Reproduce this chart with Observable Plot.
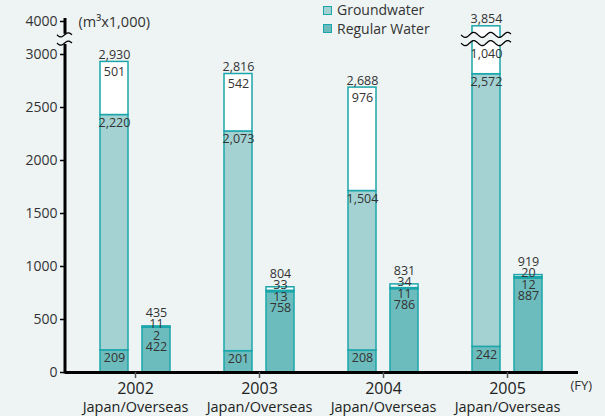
<!DOCTYPE html>
<html><head><meta charset="utf-8">
<script src="https://cdn.jsdelivr.net/npm/d3@7"></script>
<script src="https://cdn.jsdelivr.net/npm/@observablehq/plot@0.6"></script>
<style>
html,body{margin:0;padding:0;background:#edf4f3;}
#wrap{position:relative;width:605px;height:416px;font-family:"Open Sans",sans-serif;}
#wrap svg{position:absolute;left:0;top:0;}
.leg{position:absolute;left:323px;font-size:14px;line-height:16px;color:#333;display:flex;align-items:center;z-index:2;}
.leg .sw{width:7px;height:7px;border:1px solid #1ba6ab;margin-right:5px;display:inline-block;}
</style></head><body><div id="wrap"></div>
<script>
const years = ["2002", "2003", "2004", "2005"];
const japanRegular = [209, 201, 208, 242];
const japanGround = [2220, 2073, 1504, 2572];
const japanOther = [501, 542, 976, 1040];
const japanTotal = [2930, 2816, 2688, 3854];
const overseasRegular = [422, 758, 786, 887];
const overseasGround = [2, 13, 11, 12];
const overseasOther = [11, 33, 34, 20];
const overseasTotal = [435, 804, 831, 919];
const yTicks = [0, 500, 1000, 1500, 2000, 2500, 3000, 4000];
const seriesNames = ["Groundwater", "Regular Water"];
const unitLabel = "(m³x1,000)";
const fyLabel = "(FY)";
const subLabel = "Japan/Overseas";
const breakLow = 3330, breakHigh = 3580;

const colors = {regular: "#6dbcbd", ground: "#a4d2d3", other: "#ffffff"};
const strokeC = "#1ba6ab";
const bg = "#edf4f3";
const fmt = d3.format(",");

function segments(reg, gr, oth, tot) {
  const rows = [];
  years.forEach((yr, i) => {
    rows.push({year: yr, kind: "regular", y1: 0, y2: reg[i]});
    rows.push({year: yr, kind: "ground", y1: reg[i], y2: reg[i] + gr[i]});
    rows.push({year: yr, kind: "other", y1: reg[i] + gr[i], y2: tot[i]});
  });
  return rows;
}
const japanSeg = segments(japanRegular, japanGround, japanOther, japanTotal);
const overseasSeg = segments(overseasRegular, overseasGround, overseasOther, overseasTotal);

const jInL = 27, jInR = 69, oInL = 69, oInR = 27;
const barW = 124 - jInL - jInR;

const idx = years.map((d, i) => i);

function decorations(index, scales, values, dims) {
  const x = scales.x, y = scales.y;
  const g = d3.create("svg:g");
  const wave = (x0, x1, yc, period, amp) => {
    const pts = [];
    for (let px = x0; px <= x1 + 0.01; px += 1) pts.push([px, yc + amp * Math.sin(2 * Math.PI * (px - x0) / period)]);
    return pts;
  };
  const line = d3.line();
  const ax = dims.marginLeft;
  const yl = y(breakLow), yh = y(breakHigh);
  g.append("line").attr("x1", ax).attr("x2", ax).attr("y1", y(0) + 1.5).attr("y2", yl + 1)
    .attr("stroke", "#000").attr("stroke-width", 3);
  g.append("line").attr("x1", ax).attr("x2", ax).attr("y1", y(4000) - 3).attr("y2", yh - 1)
    .attr("stroke", "#000").attr("stroke-width", 3);
  [yh, yl].forEach(yc => {
    g.append("path").attr("d", line(wave(ax - 8, ax + 7, yc, 15, 2)))
      .attr("fill", "none").attr("stroke", "#000").attr("stroke-width", 1.3);
  });
  japanTotal.forEach((t, i) => {
    if (t > breakHigh) {
      const bx0 = x(years[i]) + jInL;
      const bx1 = bx0 + barW;
      const a = bx0 - 11, b = bx1 + 11;
      const up = wave(a, b, yh, 17, 2.5), lo = wave(a, b, yl, 17, 2.5);
      g.append("path").attr("d", line(up.concat(lo.slice().reverse())) + "Z").attr("fill", bg);
      [up, lo].forEach(p => g.append("path").attr("d", line(p)).attr("fill", "none")
        .attr("stroke", "#000").attr("stroke-width", 1.3));
    }
  });
  return g.node();
}

const txt = {fill: "#333", fontSize: 12.5, lineAnchor: "middle"};

const chart = Plot.plot({
  width: 605, height: 416,
  marginLeft: 65, marginRight: 27, marginTop: 21, marginBottom: 44,
  style: {background: "transparent", fontFamily: '"Open Sans", sans-serif', color: "#333"},
  x: {type: "band", domain: years, range: [73, 569], padding: 0, axis: null},
  y: {type: "linear", domain: [0, 3000, 4000], range: [372, 54, 21], axis: null},
  marks: [
    Plot.rectY(japanSeg, {x: "year", y1: "y1", y2: "y2", fill: d => colors[d.kind], stroke: strokeC, strokeWidth: 1.5, insetLeft: jInL, insetRight: jInR}),
    Plot.rectY(overseasSeg, {x: "year", y1: "y1", y2: "y2", fill: d => colors[d.kind], stroke: strokeC, strokeWidth: 1.5, insetLeft: oInL, insetRight: oInR}),
    Plot.ruleY([0], {stroke: "#000", strokeWidth: 3}),
    Plot.axisY({ticks: yTicks, tickSize: 5, tickPadding: 3, fontSize: 14, tickFormat: d => String(d), label: null, stroke: "#000", strokeWidth: 1.5, fill: "#333"}),
    Plot.axisX({tickSize: 6, tickPadding: 4, fontSize: 16, label: null, stroke: "#555", strokeWidth: 1.5, fill: "#222"}),
    decorations,
    Plot.text(years, {x: d => d, frameAnchor: "bottom", dy: 35, text: () => subLabel, fontSize: 14.5, fill: "#222", lineAnchor: "middle"}),
    Plot.text([unitLabel], {frameAnchor: "top-left", dx: 13, dy: 1, textAnchor: "start", lineAnchor: "middle", fontSize: 14.5, fill: "#333"}),
    Plot.text([fyLabel], {frameAnchor: "bottom-right", dx: -8, dy: 13, textAnchor: "start", lineAnchor: "middle", fontSize: 13, fill: "#333"}),
    // Japan labels
    Plot.text(idx, {x: i => years[i], y: i => japanTotal[i], text: i => fmt(japanTotal[i]), dx: -21, dy: -7, ...txt}),
    Plot.text(idx, {x: i => years[i], y: i => Math.min(japanTotal[i], breakLow), text: i => fmt(japanOther[i]), dx: -21, dy: 10, ...txt}),
    Plot.text(idx, {x: i => years[i], y: i => japanRegular[i] + japanGround[i], text: i => fmt(japanGround[i]), dx: -21, dy: 8, ...txt}),
    Plot.text(idx, {x: i => years[i], y: i => japanRegular[i], text: i => fmt(japanRegular[i]), dx: -21, dy: 8, ...txt}),
    // Overseas labels
    Plot.text(idx, {x: i => years[i], y: i => overseasTotal[i], text: i => fmt(overseasTotal[i]), dx: 21, dy: -13, ...txt}),
    Plot.text(idx, {x: i => years[i], y: i => overseasTotal[i], text: i => fmt(overseasOther[i]), dx: 21, dy: -2, ...txt}),
    Plot.text(idx, {x: i => years[i], y: i => overseasTotal[i], text: i => fmt(overseasGround[i]), dx: 21, dy: 9.5, ...txt}),
    Plot.text(idx, {x: i => years[i], y: i => overseasTotal[i], text: i => fmt(overseasRegular[i]), dx: 21, dy: 20.5, ...txt})
  ]
});
const wrap = document.getElementById("wrap");
wrap.appendChild(chart);
const legColors = [colors.ground, colors.regular];
seriesNames.forEach((name, i) => {
  const d = document.createElement("div");
  d.className = "leg";
  d.style.top = (2 + i * 18.5) + "px";
  const sw = document.createElement("span");
  sw.className = "sw";
  sw.style.background = legColors[i];
  d.appendChild(sw);
  d.appendChild(document.createTextNode(name));
  wrap.appendChild(d);
});
</script></body></html>
